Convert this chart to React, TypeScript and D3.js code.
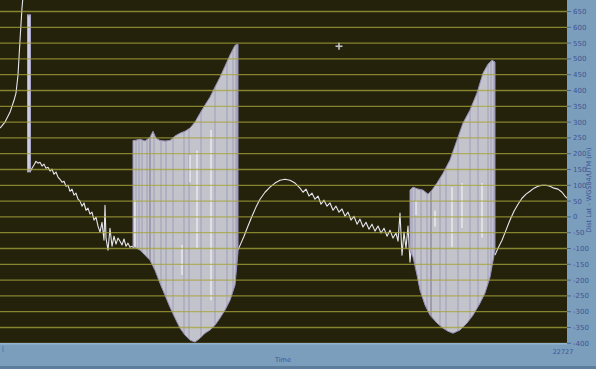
import React from 'react';
import * as d3 from 'd3';

const W = 596;
const H = 369;

// y ticks (right axis)
const yTicks = [-400, -350, -300, -250, -200, -150, -100, -50, 0, 50, 100, 150, 200, 250, 300, 350, 400, 450, 500, 550, 600, 650];
const endTimeLabel = '22727';
const xTitle = 'Time';
const yTitle = 'Dist Lat - WGS84/UTM (m)';

// trace segments (time, value)
const riseTime = [0, 5, 10, 14, 16, 18, 20, 22, 24];
const riseValue = [281, 300, 331, 369, 392, 449, 559, 661, 733];

const decayTime = [30, 32, 34, 36, 38, 40, 42, 44, 46, 48, 50, 52, 54, 56, 58, 60, 62, 64, 66, 68, 70, 72, 74, 76, 78, 80, 82, 84, 86, 88, 90, 92, 94, 96, 98, 100, 102, 104, 105, 106, 108, 110, 112, 114, 116, 118, 120, 122, 124, 126, 128, 130, 132, 134];
const decayValue = [142, 154, 164, 176, 170, 173, 161, 167, 154, 157, 145, 151, 135, 142, 126, 119, 110, 113, 97, 100, 81, 88, 69, 75, 56, 50, 34, 44, 21, 28, 9, 15, -10, -1, -29, -48, -17, -74, 37, -67, -105, -36, -93, -61, -86, -67, -77, -89, -70, -93, -83, -96, -93, -99];

const midTime = [238, 241, 244, 248, 252, 256, 260, 265, 270, 275, 280, 285, 290, 295, 300, 303, 306, 309, 312, 315, 318, 321, 324, 327, 330, 333, 336, 339, 342, 345, 348, 351, 354, 357, 360, 363, 366, 369, 372, 375, 378, 381, 384, 387, 390, 393, 396, 398, 400, 402, 404, 406, 408, 410, 412];
const midValue = [-105, -83, -61, -29, 2, 31, 56, 78, 94, 107, 116, 119, 116, 107, 91, 78, 88, 66, 75, 56, 66, 40, 53, 34, 44, 21, 34, 15, 25, 2, 15, -10, 2, -23, -7, -32, -17, -39, -23, -45, -29, -51, -36, -61, -42, -67, -51, -77, 12, -121, -48, -99, -29, -143, -74];

const endTime = [495, 498, 502, 506, 510, 514, 518, 522, 526, 530, 534, 538, 542, 546, 550, 554, 558, 562, 565, 567];
const endValue = [-121, -99, -74, -42, -10, 18, 40, 59, 72, 81, 91, 97, 100, 100, 97, 91, 88, 78, 66, 59];

// spike
const spikeTime = [27, 31];
const spikeTop = 641;
const spikeBottom = 141;

// band 1 envelope
const band1UpperTime = [133, 135, 140, 145, 150, 153, 156, 160, 165, 170, 175, 180, 185, 190, 195, 200, 205, 210, 215, 220, 225, 230, 235, 238];
const band1UpperValue = [242, 242, 246, 240, 252, 271, 249, 242, 240, 242, 256, 265, 271, 281, 300, 328, 354, 379, 411, 442, 477, 512, 543, 547];
const band1LowerTime = [133, 140, 145, 150, 155, 160, 165, 170, 175, 180, 185, 190, 195, 200, 205, 210, 215, 220, 225, 230, 235, 238];
const band1LowerValue = [-93, -105, -121, -137, -169, -210, -248, -286, -320, -352, -374, -390, -396, -384, -368, -358, -343, -320, -295, -264, -216, -112];

// band 2 envelope
const band2UpperTime = [410, 413, 418, 423, 428, 432, 437, 443, 450, 457, 463, 470, 477, 483, 488, 492, 495];
const band2UpperValue = [85, 94, 88, 85, 72, 85, 107, 138, 180, 243, 297, 338, 392, 455, 483, 496, 490];
const band2LowerTime = [410, 413, 417, 420, 425, 430, 437, 443, 448, 453, 460, 467, 473, 480, 485, 490, 495];
const band2LowerValue = [-105, -127, -184, -232, -279, -311, -336, -352, -362, -368, -358, -336, -311, -273, -241, -191, -105];

// stripes inside the bands
const band1StripeTime = [136, 139, 142, 147, 150, 154, 161, 166, 173, 184, 189, 201, 215, 227, 233, 236, 237];
const band1StripeKind = ['l', 'l', 'l', 'l', 'd', 'l', 'l', 'l', 'l', 'l', 'l', 'l', 'l', 'l', 'l', 'l', 'l'];
const band2StripeTime = [412, 415, 421, 427, 431, 440, 446, 458, 470, 478, 488, 491, 494];
const band2StripeKind = ['l', 'l', 'l', 'l', 'd', 'l', 'l', 'l', 'l', 'l', 'l', 'l', 'l'];

// white streaks (time, top value, bottom value)
const streakTime = [135, 182, 190, 197, 211, 416, 435, 452, 462, 482];
const streakTop = [53, -89, 195, 210, 275, 50, 20, 94, 107, 107];
const streakBottom = [-96, -184, 110, -100, -264, 5, -30, -96, -35, -65];

// crosshair marker
const markerTime = 339;
const markerValue = 540;

const plotRight = 567;
const plotBottom = 343;

export default function App() {
  const x = d3.scaleLinear().domain([0, 567]).range([0, plotRight]);
  const y = d3.scaleLinear().domain([-400, 650]).range([343.3, 11.5]);

  const line = d3.line<[number, number]>().x(d => x(d[0])).y(d => y(d[1]));
  const seg = (t: number[], v: number[]) => line(t.map((tt, i) => [tt, v[i]] as [number, number])) || '';

  const bandPath = (ut: number[], uv: number[], lt: number[], lv: number[]) => {
    const pts: [number, number][] = ut.map((t, i) => [t, uv[i]] as [number, number]);
    for (let i = lt.length - 1; i >= 0; i--) pts.push([lt[i], lv[i]]);
    return (line(pts) || '') + 'Z';
  };
  const b1 = bandPath(band1UpperTime, band1UpperValue, band1LowerTime, band1LowerValue);
  const b2 = bandPath(band2UpperTime, band2UpperValue, band2LowerTime, band2LowerValue);

  const stripeColor = (k: string) => (k === 'd' ? '#4a4070' : '#8a83b3');

  const textColor = '#3b5591';
  const font = 'DejaVu Sans, sans-serif';

  return (
    <svg width={W} height={H} style={{ position: 'absolute', left: 0, top: 0 }}>
      <defs>
        <clipPath id="plot"><rect x={0} y={0} width={plotRight} height={plotBottom} /></clipPath>
        <clipPath id="b1"><path d={b1} /></clipPath>
        <clipPath id="b2"><path d={b2} /></clipPath>
      </defs>
      {/* panels */}
      <rect x={0} y={0} width={W} height={H} fill="#7b9ebd" />
      <rect x={0} y={366} width={W} height={3} fill="#5d7d9c" />
      <rect x={0} y={plotBottom} width={plotRight} height={1.5} fill="#93b3cf" />
      <rect x={0} y={0} width={plotRight} height={plotBottom} fill="#24220b" />

      <g clipPath="url(#plot)">
        {/* trace */}
        {[[riseTime, riseValue], [decayTime, decayValue], [midTime, midValue], [endTime, endValue]].map((s, i) => (
          <path key={i} d={seg(s[0], s[1])} fill="none" stroke="#e6e6ee" strokeWidth={1.1} strokeLinejoin="round" />
        ))}
        {/* spike */}
        <rect x={x(spikeTime[0])} y={y(spikeTop)} width={x(spikeTime[1]) - x(spikeTime[0])} height={y(spikeBottom) - y(spikeTop)} fill="#a9a5cc" />
        <rect x={x(spikeTime[0]) + 1.2} y={y(spikeTop) + 2} width={1.4} height={y(spikeBottom) - y(spikeTop) - 4} fill="#dcdcea" />

        {/* bands */}
        <path d={b1} fill="#c3c3cb" stroke="#9690bb" strokeWidth={1} />
        <path d={b2} fill="#c3c3cb" stroke="#9690bb" strokeWidth={1} />
        <g clipPath="url(#b1)">
          {band1StripeTime.map((t, i) => (
            <line key={i} x1={x(t)} x2={x(t)} y1={0} y2={plotBottom} stroke={stripeColor(band1StripeKind[i])} strokeWidth={1} opacity={0.6} />
          ))}
        </g>
        <g clipPath="url(#b2)">
          {band2StripeTime.map((t, i) => (
            <line key={i} x1={x(t)} x2={x(t)} y1={0} y2={plotBottom} stroke={stripeColor(band2StripeKind[i])} strokeWidth={1} opacity={0.6} />
          ))}
        </g>
        {streakTime.map((t, i) => (
          <line key={i} x1={x(t)} x2={x(t)} y1={y(streakTop[i])} y2={y(streakBottom[i])} stroke="#f2f2f6" strokeWidth={1.2} />
        ))}

        {/* grid */}
        {yTicks.map(v => (
          <line key={v} x1={0} x2={plotRight} y1={y(v)} y2={y(v)} stroke="#a8a53c" strokeWidth={1.3} opacity={0.75} />
        ))}

        {/* marker */}
        <g transform={`translate(${x(markerTime)},${y(markerValue)})`} stroke="#c0c0c6" strokeWidth={1.6}>
          <line x1={-3.5} x2={3.5} y1={0} y2={0} />
          <line x1={0} x2={0} y1={-3.5} y2={3.5} />
        </g>
      </g>

      {/* right axis */}
      {yTicks.map(v => (
        <g key={v}>
          <line x1={plotRight} x2={plotRight + 4} y1={y(v)} y2={y(v)} stroke={textColor} strokeWidth={0.8} />
          <text x={plotRight + 6} y={y(v) + 2.5} fontSize={7} fontFamily={font} fill={textColor}>{v}</text>
        </g>
      ))}
      <text transform={`translate(591,190) rotate(-90)`} textAnchor="middle" fontSize={6.5} fontFamily={font} fill={textColor}>{yTitle}</text>

      {/* bottom axis */}
      <text x={x(283)} y={362} textAnchor="middle" fontSize={6.5} fontFamily={font} fill={textColor}>{xTitle}</text>
      <text x={x(563)} y={354} textAnchor="middle" fontSize={6.5} fontFamily={font} fill={textColor}>{endTimeLabel}</text>
      <line x1={3} x2={3} y1={346} y2={352} stroke={textColor} strokeWidth={0.8} opacity={0.6} />
    </svg>
  );
}
